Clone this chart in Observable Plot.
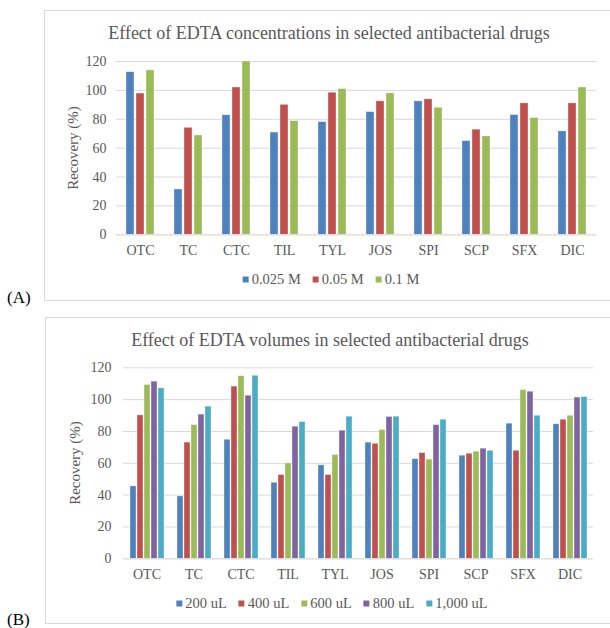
<!DOCTYPE html>
<html>
<head>
<meta charset="utf-8">
<script src="https://cdn.jsdelivr.net/npm/d3@7"></script>
<script src="https://cdn.jsdelivr.net/npm/@observablehq/plot@0.6"></script>
<style>
  html, body { margin: 0; padding: 0; background: #fff; }
  body { width: 610px; height: 628px; position: relative; overflow: hidden; font-family: "Liberation Serif", "Times New Roman", serif; color: #595959; }
  .box { position: absolute; border: 1px solid #d9d9d9; box-sizing: border-box; }
  .abs { position: absolute; }
  .title { position: absolute; white-space: nowrap; font-size: 18px; color: #595959; transform: translate(-50%, -50%); }
  .ylab { position: absolute; white-space: nowrap; font-size: 15px; color: #595959; transform: translate(-50%, -50%) rotate(-90deg); }
  .panel { position: absolute; font-size: 17px; color: #000; transform: translateY(-50%); }
  .legend { position: absolute; display: flex; white-space: nowrap; font-size: 14.5px; color: #595959; transform: translate(-50%, -50%); align-items: center; }
  .legend .item { display: flex; align-items: center; margin: 0 6px; }
  .legend .sw { width: 6px; height: 6px; margin-right: 3px; }
  svg text { font-family: "Liberation Serif", "Times New Roman", serif; }
</style>
</head>
<body>
<div class="box" style="left:44px; top:10px; width:570px; height:291px;"></div>
<div class="box" style="left:45px; top:317px; width:570px; height:307px;"></div>
<div id="chartA" class="abs" style="left:0; top:40px;"></div>
<div id="chartB" class="abs" style="left:0; top:345px;"></div>
<div class="title" style="left:329px; top:33px;">Effect of EDTA concentrations in selected antibacterial drugs</div>
<div class="title" style="left:330px; top:340px;">Effect of EDTA volumes in selected antibacterial drugs</div>
<div class="ylab" style="left:73px; top:148px;">Recovery (%)</div>
<div class="ylab" style="left:75px; top:463px;">Recovery (%)</div>
<div class="panel" style="left:7px; top:298px;">(A)</div>
<div class="panel" style="left:7px; top:620px;">(B)</div>
<div id="legA" class="legend" style="left:331px; top:279px;"></div>
<div id="legB" class="legend" style="left:332px; top:603px;"></div>
<script>
const drugs = ["OTC","TC","CTC","TIL","TYL","JOS","SPI","SCP","SFX","DIC"];
const yTicks = [0, 20, 40, 60, 80, 100, 120];

// Panel A: EDTA concentrations
const concSeries = ["0.025 M", "0.05 M", "0.1 M"];
const conc025 = [112.6, 31.4, 82.8, 70.8, 78, 85, 92.4, 64.9, 82.9, 71.6];
const conc05  = [97.8, 74.1, 102, 90, 98.4, 92.4, 93.8, 72.8, 91, 91];
const conc1   = [113.8, 68.8, 120, 78.7, 100.9, 97.9, 88, 68.1, 80.8, 102];
const concColors = ["#4F81BD", "#C0504D", "#9BBB59"];

// Panel B: EDTA volumes
const volSeries = ["200 uL", "400 uL", "600 uL", "800 uL", "1,000 uL"];
const vol200  = [45.5, 39.2, 74.8, 47.8, 58.7, 73, 62.6, 64.8, 84.9, 84.5];
const vol400  = [90.1, 73, 108.2, 52.6, 52.6, 72.3, 66.4, 66, 67.9, 87.4];
const vol600  = [109.2, 84, 114.7, 59.9, 65.2, 80.9, 62.3, 67.3, 106, 89.9];
const vol800  = [111.3, 90.6, 102.5, 83, 80.5, 89.1, 84, 69.2, 105, 101.3];
const vol1000 = [107.1, 95.6, 115, 85.9, 89.3, 89.3, 87.4, 67.9, 89.9, 101.6];
const volColors = ["#4F81BD", "#C0504D", "#9BBB59", "#8064A2", "#4BACC6"];

function toRows(series, arrays) {
  const rows = [];
  drugs.forEach((d, i) => series.forEach((s, j) => rows.push({drug: d, series: s, value: arrays[j][i]})));
  return rows;
}

function makeChart(rows, series, colors, cfg) {
  return Plot.plot({
    width: 610,
    height: cfg.height,
    marginLeft: cfg.ml,
    marginRight: cfg.mr,
    marginTop: cfg.mt,
    marginBottom: cfg.mb,
    style: {fontFamily: '"Liberation Serif", "Times New Roman", serif', fontSize: "14px", color: "#595959", background: "transparent"},
    facet: {data: rows, x: "drug"},
    fx: {domain: drugs, padding: 0, label: null, tickSize: 0, tickPadding: cfg.fxPad, fontSize: 15},
    x: {domain: series, paddingInner: cfg.pi, paddingOuter: cfg.po, axis: null},
    y: {domain: [0, 120], ticks: yTicks, tickSize: 0, tickPadding: cfg.yPad, label: null, line: false},
    color: {domain: series, range: colors},
    marks: [
      Plot.ruleY(yTicks.slice(1), {stroke: "#d9d9d9", strokeWidth: 1}),
      Plot.barY(rows, {x: "series", y: "value", fill: "series", stroke: "#ffffff", strokeOpacity: 0.6, strokeWidth: 0.6}),
      Plot.ruleY([0], {stroke: "#d9d9d9", strokeWidth: 1.2})
    ]
  });
}

document.getElementById("chartA").appendChild(makeChart(
  toRows(concSeries, [conc025, conc05, conc1]), concSeries, concColors,
  {height: 230, ml: 115, mr: 13, mt: 21, mb: 35.7, pi: 0.25, po: 0.885, fxPad: 10, yPad: 10}
));
document.getElementById("chartB").appendChild(makeChart(
  toRows(volSeries, [vol200, vol400, vol600, vol800, vol1000]), volSeries, volColors,
  {height: 240, ml: 118, mr: 12.3, mt: 22.3, mb: 26.7, pi: 0.2, po: 0.8, fxPad: 10, yPad: 12}
));

function legend(id, series, colors) {
  const el = document.getElementById(id);
  series.forEach((s, i) => {
    const it = document.createElement("div");
    it.className = "item";
    const sw = document.createElement("div");
    sw.className = "sw";
    sw.style.background = colors[i];
    const tx = document.createElement("span");
    tx.textContent = s;
    it.appendChild(sw); it.appendChild(tx);
    el.appendChild(it);
  });
}
legend("legA", concSeries, concColors);
legend("legB", volSeries, volColors);
</script>
</body>
</html>
